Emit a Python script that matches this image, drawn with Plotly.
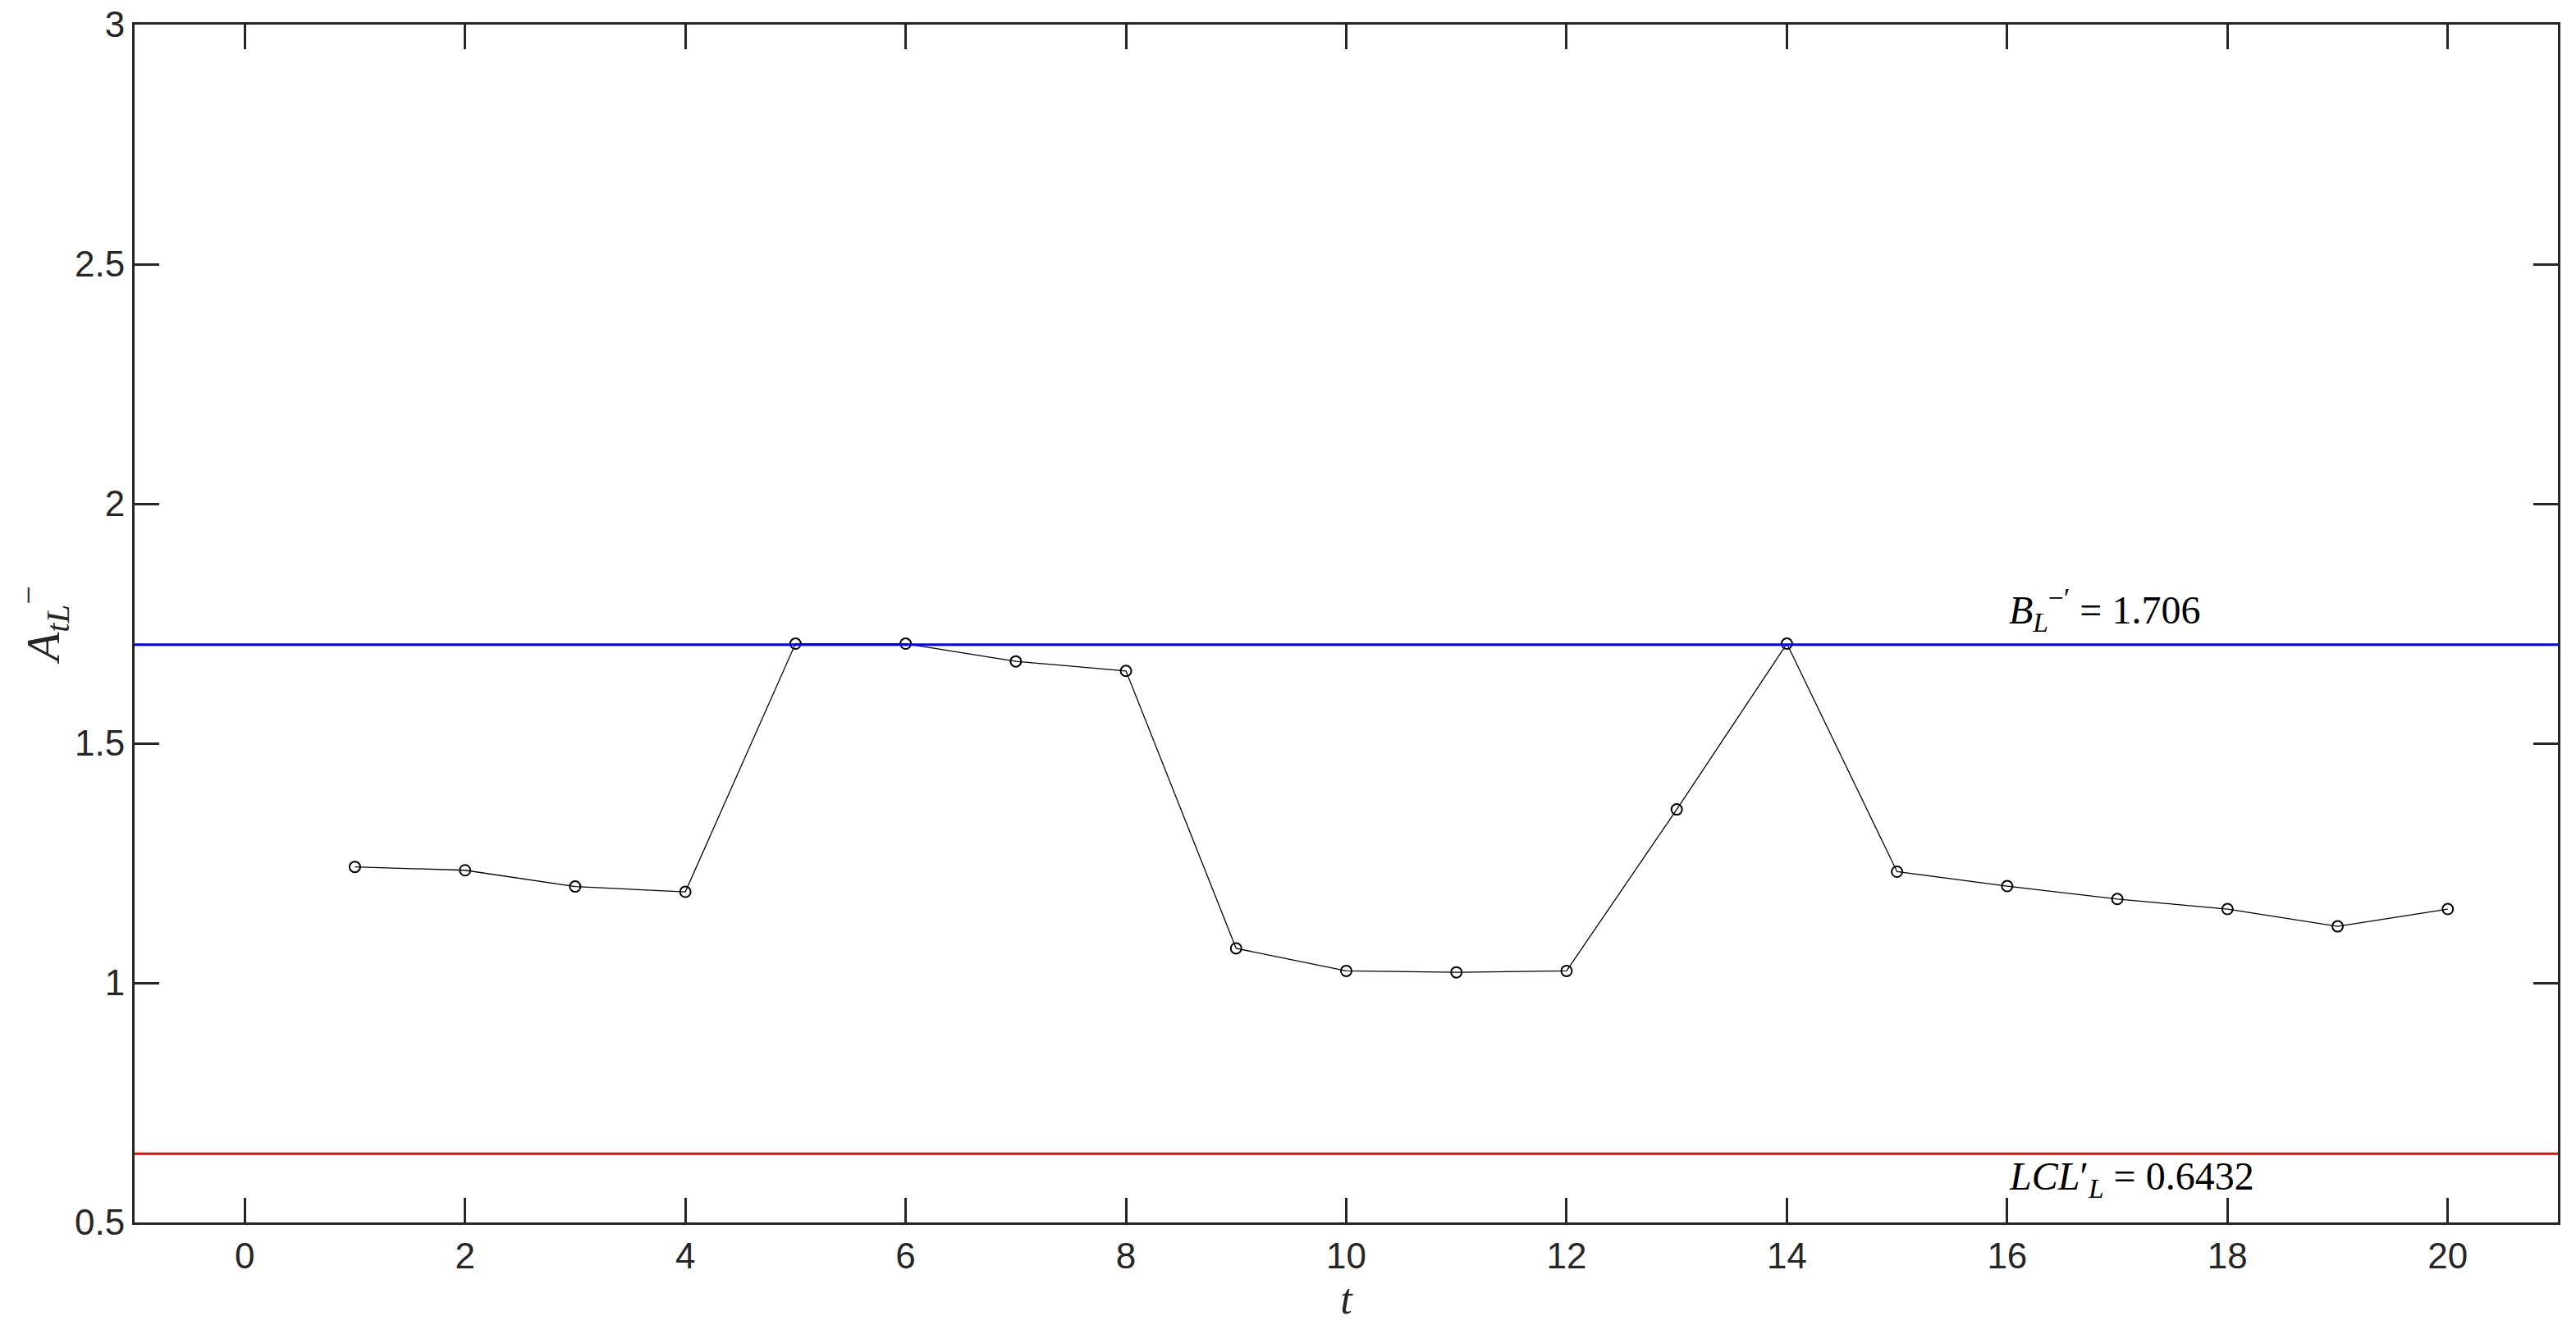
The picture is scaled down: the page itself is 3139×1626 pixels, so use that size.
import plotly.graph_objects as go

# control chart values
t_values = list(range(1, 21))
a_values = [1.242, 1.235, 1.201, 1.190, 1.708, 1.708, 1.671, 1.651, 1.072, 1.025,
            1.022, 1.025, 1.362, 1.708, 1.232, 1.202, 1.175, 1.154, 1.118, 1.154]
b_limit = 1.706
lcl_limit = 0.6432
x_ticks = list(range(0, 21, 2))
y_ticks = [0.5, 1, 1.5, 2, 2.5, 3]
y_tick_labels = ["0.5", "1", "1.5", "2", "2.5", "3"]

AXIS = "#262626"
SERIF = "Liberation Serif, Times New Roman, serif"

fig = go.Figure()
fig.add_trace(go.Scatter(
    x=t_values, y=a_values, mode="lines+markers",
    line=dict(color="black", width=1.3),
    marker=dict(symbol="circle-open", size=13, color="black", line=dict(width=2)),
    showlegend=False,
))
fig.add_hline(y=b_limit, line=dict(color="#0000FF", width=3))
fig.add_hline(y=lcl_limit, line=dict(color="#FF0000", width=3))

fig.add_annotation(
    x=16.0, y=1.779, xref="x", yref="y", xanchor="left", yanchor="middle",
    text=f"<i>B</i><sub><i>L</i></sub><sup>−′</sup> = {b_limit}",
    showarrow=False, font=dict(family=SERIF, size=48, color="black"),
)
fig.add_annotation(
    x=16.0, y=0.591, xref="x", yref="y", xanchor="left", yanchor="middle",
    text=f"<i>LCL</i>′<sub><i>L</i></sub> = {lcl_limit}",
    showarrow=False, font=dict(family=SERIF, size=48, color="black"),
)

# margins allow for the 8px body margin of the written page
fig.update_layout(
    width=3139, height=1626,
    margin=dict(l=156, r=30, t=22, b=144, autoexpand=False),
    paper_bgcolor="white", plot_bgcolor="white",
    font=dict(family="Liberation Sans, Arial, sans-serif", size=44, color=AXIS),
)
fig.update_xaxes(
    range=[-1, 21], tickvals=x_ticks, ticks="inside", ticklen=30, tickwidth=3,
    tickcolor=AXIS, showline=True, linecolor=AXIS, linewidth=3, mirror="ticks",
    showgrid=False, zeroline=False, ticklabeloverflow="allow", automargin=False,
    title=dict(text="<i>t</i>", font=dict(family=SERIF, size=52, color=AXIS), standoff=8),
)
fig.update_yaxes(
    range=[0.5, 3], tickvals=y_ticks, ticktext=y_tick_labels, ticks="inside",
    ticklen=30, tickwidth=3, tickcolor=AXIS, showline=True, linecolor=AXIS,
    linewidth=3, mirror="ticks", showgrid=False, zeroline=False,
    ticklabeloverflow="allow", automargin=False,
    title=dict(text="<i>A</i><sub><i>tL</i></sub><sup>−</sup>",
               font=dict(family=SERIF, size=58, color=AXIS), standoff=0),
)

fig.write_html("out.html")
